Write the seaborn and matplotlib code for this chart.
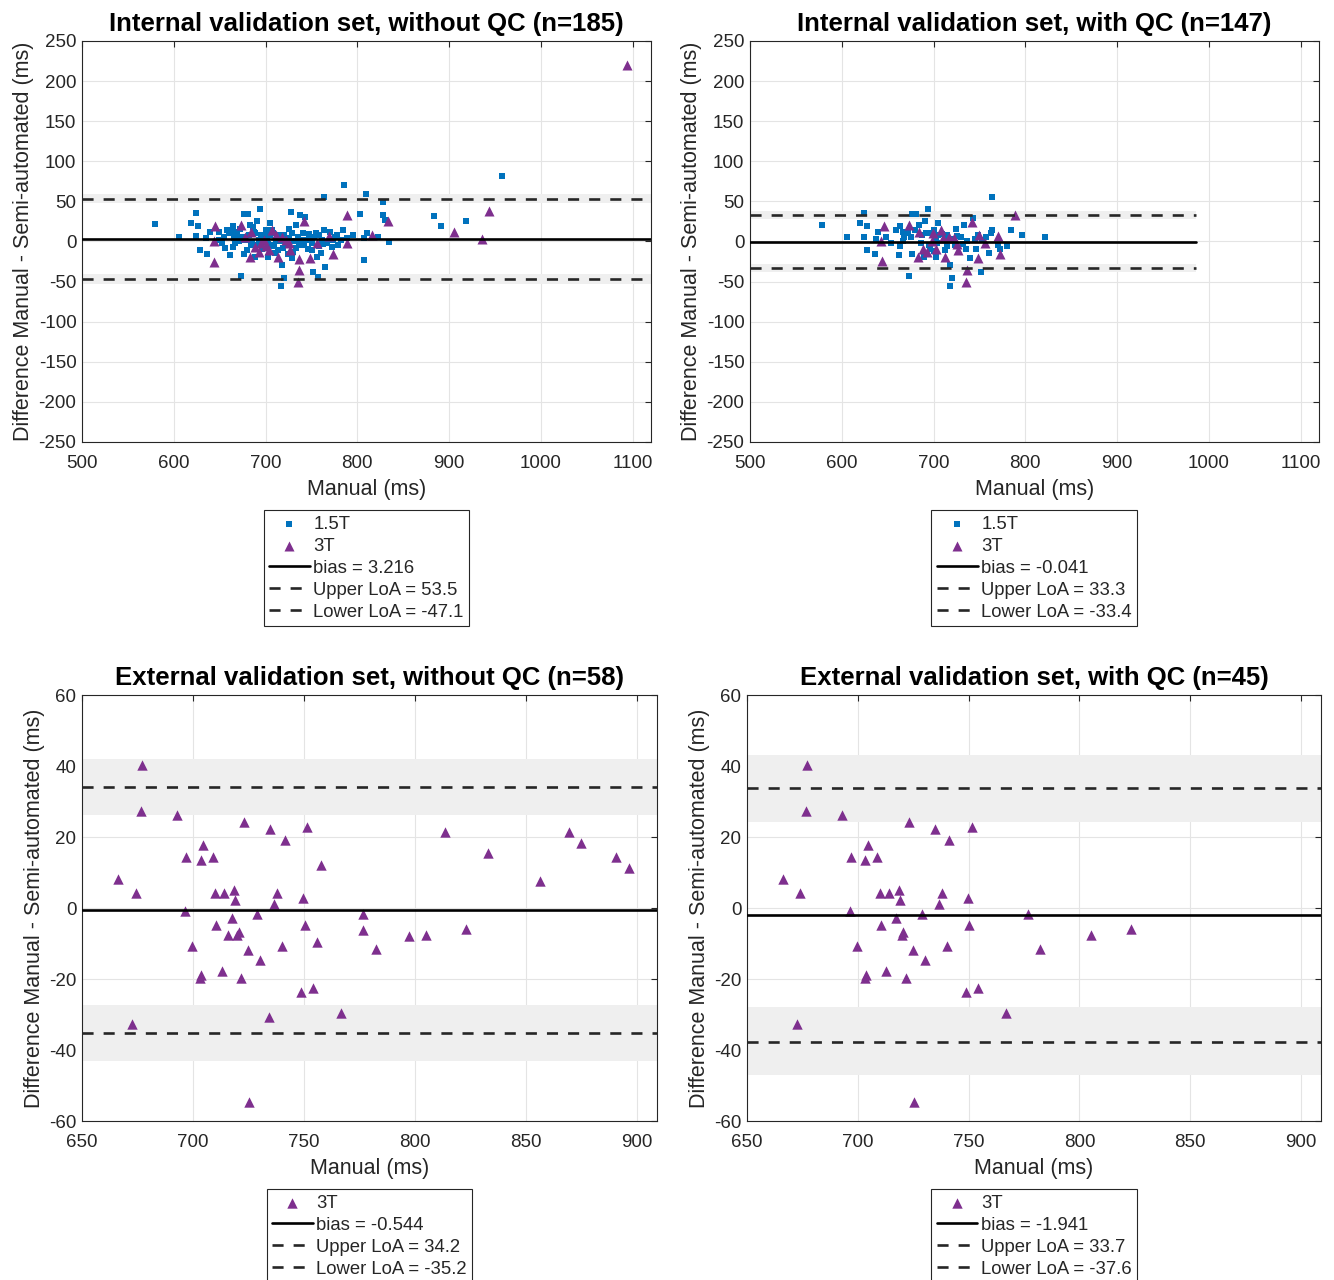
import numpy as np
import pandas as pd
import matplotlib
matplotlib.use('Agg')
import matplotlib.pyplot as plt
import seaborn as sns

# ---- internal validation set, without QC ----
int_15_x = [579, 606, 624, 619, 626, 624, 628, 636, 639, 635,
            649, 653, 658, 664, 667, 661, 664, 673, 676, 681,
            683, 691, 694, 675, 676, 685, 689, 696, 700, 705,
            703, 705, 711, 715, 718, 720, 717, 713, 722, 728,
            725, 733, 737, 743, 736, 741, 746, 747, 752, 757,
            756, 760, 764, 765, 772, 779, 784, 795, 803, 807,
            807, 810, 764, 786, 809,
            660, 664, 669, 671, 678, 682, 687, 693, 698, 702,
            707, 709, 716, 720, 729, 731, 733, 738, 744, 751,
            753, 758, 762, 767, 773, 776, 782, 789, 649, 655,
            656, 667, 680, 684, 695, 705, 724, 729, 751, 758,
            688, 692, 697, 703, 708, 712, 719, 726, 735, 742,
            748, 755, 763, 770, 778, 666, 672, 686, 710, 730,
            958, 828, 828, 830, 822, 835, 883, 891, 918]
int_15_y = [22, 5, 36, 23, 19, 7, -11, -16, 12, 4,
            2, -2, 14, 19, 12, -17, -7, -43, 34, 34,
            21, 26, 41, 6, -15, -2, -19, -9, 14, 23,
            -19, 8, 2, 8, -29, -45, -56, -11, -4, 37,
            15, 21, 33, 30, -4, 10, -10, 9, -38, -44,
            -19, -14, 14, -32, -7, -4, 14, 8, 34, -23,
            4, 10, 56, 70, 59,
            11, 14, 8, 0, 2, 8, 12, 2, 8, 2,
            14, -6, 0, 8, 10, 0, -8, 2, 2, -2,
            6, 8, 2, -2, 2, 6, 2, 4, 12, 6,
            -8, -2, -11, -4, 8, -4, -15, -21, -11, -6,
            10, -5, 4, -3, 10, 4, -8, 4, 6, -4,
            3, 10, -3, 12, 8, 4, 16, 18, -14, -13,
            82, 49, 33, 27, 5, -1, 32, 19, 25]
int_3_x = [645, 644, 644, 673, 684, 689, 683, 693, 698, 707,
           704, 713, 718, 725, 727, 736, 742, 736, 748, 735,
           756, 769, 773, 789, 789, 678, 695, 711, 700, 722,
           833, 816, 905, 936, 944, 1094]
int_3_y = [19, 0, -25, 21, 12, -7, -19, -13, 2, 14,
           -11, -19, 5, -2, -11, -22, 25, -35, -21, -51,
           -2, 7, -16, 33, -2, 6, -2, 8, -6, 2,
           26, 8, 12, 3, 38, 220]

# ---- internal validation set, with QC ----
intqc_15_x = [579, 606, 624, 620, 627, 624, 628, 636, 640, 637,
              648, 654, 659, 664, 667, 662, 664, 673, 677, 681,
              684, 691, 694, 675, 677, 686, 690, 696, 701, 705,
              703, 705, 712, 715, 718, 720, 718, 713, 723, 733,
              743, 724, 735, 740, 752, 746, 748, 763, 764, 772,
              761, 764, 780, 784, 796, 821, 697, 703, 721, 730,
              737, 753, 770, 692, 672, 667,
              688, 695, 704, 709, 715, 726, 732, 745, 757, 668,
              680, 700]
intqc_15_y = [21, 5, 36, 23, 19, 6, -11, -16, 12, 3,
              6, -2, 14, 19, 12, -17, -6, -43, 34, 34,
              21, 26, 41, 6, -15, -2, -19, -9, 14, 23,
              -19, 8, 2, 8, -29, -45, -56, -11, -4, 21,
              29, 15, -9, -21, -38, -10, 8, 10, 14, -9,
              -14, 56, -6, 14, 8, 5, 11, 5, 3, 5,
              1, 2, -4, 10, 10, 1,
              8, -4, -2, 9, -6, 7, -3, 3, 5, 6,
              14, -12]
intqc_3_x = [646, 643, 644, 673, 684, 689, 683, 693, 698, 708,
             703, 712, 717, 726, 727, 736, 735, 742, 749, 750,
             756, 770, 773, 789, 699, 710, 722]
intqc_3_y = [19, 0, -24, 21, 12, -9, -19, -13, 1, 14,
             -10, -19, 5, -3, -11, -35, -51, 24, -20, 8,
             -2, 7, -16, 33, 10, 4, 4]

# ---- external validation set (3T only); ext_qc = 1 if kept after QC ----
ext_x = [677.1, 676.6, 692.8, 666.2, 674.1, 696.7, 704.5, 703.4, 708.8, 709.9,
         713.9, 718.4, 718.9, 696.4, 722.9, 734.7, 741.3, 751.3, 757.8, 737.9,
         736.4, 749.6, 710.5, 717.4, 728.9, 715.9, 719.9, 720.5, 699.6, 724.9,
         730.2, 740.3, 750.3, 755.7, 703.7, 703.0, 712.9, 721.7, 748.8, 754.2,
         672.6, 734.3, 766.8, 725.3, 776.6, 776.6, 782.3, 813.6, 832.9, 856.3,
         869.3, 874.7, 890.6, 896.3, 797.2, 805.1, 823.1]
ext_y = [40.3, 27.3, 26.3, 8.3, 4.3, 14.3, 17.8, 13.4, 14.3, 4.3,
         4.3, 5.1, 2.3, -0.9, 24.2, 22.2, 19.3, 22.9, 12.2, 4.3,
         1.2, 2.9, -4.7, -2.7, -1.6, -7.7, -7.7, -6.7, -10.7, -11.7,
         -14.7, -10.7, -4.7, -9.7, -18.9, -19.7, -17.7, -19.6, -23.7, -22.4,
         -32.7, -30.7, -29.6, -54.7, -1.8, -6.1, -11.4, 21.3, 15.4, 7.6,
         21.3, 18.2, 14.3, 11.3, -7.9, -7.7, -5.8]
ext_qc = [1, 1, 1, 1, 1, 1, 1, 1, 1, 1,
          1, 1, 1, 1, 1, 1, 1, 1, 0, 1,
          1, 1, 1, 1, 1, 0, 1, 1, 1, 1,
          1, 1, 1, 0, 1, 1, 1, 1, 1, 1,
          1, 0, 1, 1, 1, 0, 1, 0, 0, 0,
          0, 0, 0, 0, 0, 1, 1]

# Bland-Altman statistics per panel (bias, upper LoA, lower LoA) and LoA CI bands
titles = ['Internal validation set, without QC (n=185)',
          'Internal validation set, with QC (n=147)',
          'External validation set, without QC (n=58)',
          'External validation set, with QC (n=45)']
bias_vals = [3.216, -0.041, -0.544, -1.941]
upper_vals = [53.5, 33.3, 34.2, 33.7]
lower_vals = [-47.1, -33.4, -35.2, -37.6]
upper_band = [(47.8, 59.6), (28.6, 38.2), (26.1, 42.1), (24.3, 43.1)]
lower_band = [(-52.8, -41.0), (-38.6, -28.4), (-43.2, -27.3), (-46.9, -28.0)]
line_end = [1120, 986, 909, 909]

BLUE = '#0072BD'
PURPLE = '#7E2F8E'
DARK = '#262626'

sns.set_theme(style='white')
plt.rcParams['font.family'] = ['Liberation Sans', 'DejaVu Sans']
plt.rcParams['axes.unicode_minus'] = False

fig = plt.figure(figsize=(13.34, 12.8), dpi=100)
axes = [fig.add_axes([0.0615, 0.6547, 0.4265, 0.3133]),
        fig.add_axes([0.5622, 0.6547, 0.4265, 0.3133]),
        fig.add_axes([0.0615, 0.1242, 0.4310, 0.3328]),
        fig.add_axes([0.5600, 0.1242, 0.4303, 0.3328])]

ext_keep = np.array(ext_qc) == 1
groups = [
    [(int_15_x, int_15_y, '1.5T', BLUE, 's', 16), (int_3_x, int_3_y, '3T', PURPLE, '^', 52)],
    [(intqc_15_x, intqc_15_y, '1.5T', BLUE, 's', 16), (intqc_3_x, intqc_3_y, '3T', PURPLE, '^', 52)],
    [(ext_x, ext_y, '3T', PURPLE, '^', 56)],
    [(list(np.array(ext_x)[ext_keep]), list(np.array(ext_y)[ext_keep]), '3T', PURPLE, '^', 56)],
]

for i, ax in enumerate(axes):
    top = i < 2
    xlim = (500, 1120) if top else (650, 909)
    x0, x1 = xlim[0], line_end[i]

    ax.fill_between([x0, x1], *upper_band[i], color='#efefef', lw=0, zorder=1)
    ax.fill_between([x0, x1], *lower_band[i], color='#efefef', lw=0, zorder=1)

    for gx, gy, name, col, mk, sz in groups[i]:
        df = pd.DataFrame({'x': gx, 'y': gy})
        sns.scatterplot(data=df, x='x', y='y', ax=ax, color=col, marker=mk, s=sz,
                        linewidth=0, label=name, zorder=3)

    ax.plot([x0, x1], [bias_vals[i]] * 2, color='black', lw=1.9, zorder=4,
            label=f'bias = {bias_vals[i]}')
    ax.plot([x0, x1], [upper_vals[i]] * 2, color=DARK, lw=1.9, ls=(0, (4.2, 3.8)), zorder=4,
            label=f'Upper LoA = {upper_vals[i]}')
    ax.plot([x0, x1], [lower_vals[i]] * 2, color=DARK, lw=1.9, ls=(0, (4.2, 3.8)), zorder=4,
            label=f'Lower LoA = {lower_vals[i]}')

    ax.set_xlim(*xlim)
    if top:
        ax.set_ylim(-250, 250)
        ax.set_xticks(np.arange(500, 1101, 100))
        ax.set_yticks(np.arange(-250, 251, 50))
    else:
        ax.set_ylim(-60, 60)
        ax.set_xticks(np.arange(650, 901, 50))
        ax.set_yticks(np.arange(-60, 61, 20))

    ax.grid(True, color='#e4e4e4', lw=0.8)
    ax.set_axisbelow(True)
    for sp in ax.spines.values():
        sp.set_color(DARK)
        sp.set_linewidth(0.8)
    ax.tick_params(direction='in', top=True, right=True, length=4, width=0.8,
                   color=DARK, labelsize=13.5, labelcolor=DARK)
    ax.tick_params(axis='x', pad=9.5)
    ax.tick_params(axis='y', pad=4)

    ax.set_xlabel('Manual (ms)', fontsize=15.5, color=DARK, labelpad=5)
    ax.set_ylabel('Difference Manual - Semi-automated (ms)', fontsize=15.5, color=DARK, labelpad=3)
    ax.set_title(titles[i], fontsize=18.5, fontweight='bold', color='black', pad=7)

    leg = ax.legend(loc='upper center', bbox_to_anchor=(0.5, -0.17 if top else -0.16),
                    frameon=True, fancybox=False, framealpha=1, edgecolor=DARK,
                    fontsize=13.3, handlelength=2.2, labelspacing=0.27, borderpad=0.3,
                    handletextpad=0.2, borderaxespad=0)
    leg.get_frame().set_linewidth(0.8)

fig.savefig('out.png', dpi=100)
